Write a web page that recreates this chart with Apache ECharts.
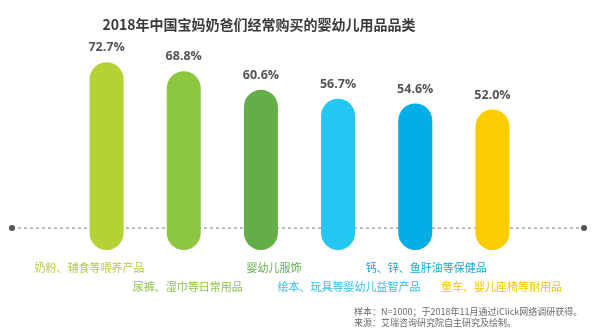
<!DOCTYPE html>
<html><head><meta charset="utf-8">
<script src="https://cdn.jsdelivr.net/npm/echarts@6/dist/echarts.min.js"></script>
<style>html,body{margin:0;padding:0;background:#fff}#c{width:600px;height:329px}</style>
</head><body><div id="c"></div>
<script>
const titleText = '2018年中国宝妈奶爸们经常购买的婴幼儿用品品类';
const categories = ['奶粉、辅食等喂养产品','尿裤、湿巾等日常用品','婴幼儿服饰','绘本、玩具等婴幼儿益智产品','钙、锌、鱼肝油等保健品','童车、婴儿座椅等耐用品'];
const values = [72.7, 68.8, 60.6, 56.7, 54.6, 52.0];
const barColors = ['#b3d234','#8dc63f','#64ae48','#22c8f2','#03aee6','#fbcc00'];
const labelColors = ['#b5cf3e','#8cc443','#62ad4a','#2ac3ee','#15a9e0','#f5c500'];
const footerLines = ['样本：N=1000；于2018年11月通过iClick网络调研获得。','来源：艾瑞咨询研究院自主研究及绘制。'];

const FONT = '"Noto Sans CJK SC", "Noto Sans", sans-serif';
// horizontal nudges of the category labels (px)
const labelShift = [-17, 4, 13, 11, 11, 9];
const rich = {e: {fontSize: 11, lineHeight: 19, fontFamily: FONT}};
categories.forEach((c, i) => {
  const d = labelShift[i];
  rich['c' + i] = {
    color: labelColors[i], fontSize: 11, fontFamily: FONT, lineHeight: 15,
    padding: [0, d < 0 ? -2 * d : 0, 0, d > 0 ? 2 * d : 0]
  };
});

const chart = echarts.init(document.getElementById('c'));
const option = {
  backgroundColor: '#fff',
  animation: false,
  title: [
    {text: titleText, left: 254, top: 13, textAlign: 'center',
     textStyle: {fontSize: 14, fontWeight: 'bold', color: '#3a3a3a', fontFamily: FONT}},
    {text: footerLines.join('\n'), left: 349, top: 301,
     textStyle: {fontSize: 9, fontWeight: 'normal', color: '#6a6a6a', lineHeight: 11, fontFamily: FONT}}
  ],
  grid: {left: 68, right: 69, top: 45.6, bottom: 79},
  xAxis: {
    type: 'category', data: categories,
    axisLine: {show: false}, axisTick: {show: false},
    axisLabel: {
      interval: 0, margin: 10, rich: rich,
      formatter: (v, i) => (i % 2 ? '{e| }\n' : '') + '{c' + i + '|' + v + '}'
    }
  },
  yAxis: {
    type: 'value', min: -9.6, max: 80, startValue: -9.6,
    show: false, splitLine: {show: false}
  },
  series: [{
    type: 'bar', data: values.map((v, i) => ({value: v, itemStyle: {color: barColors[i]}})),
    barWidth: 34,
    itemStyle: {borderRadius: 17},
    label: {show: true, position: 'top', distance: 8, fontSize: 12.5, fontWeight: 'bold',
      color: '#555', fontFamily: '"Open Sans", "Noto Sans", sans-serif',
      formatter: p => p.value.toFixed(1) + '%'}
  }]
};
chart.setOption(option);
const y0 = chart.convertToPixel({yAxisIndex: 0}, 0);
chart.setOption({
  graphic: [
    {type: 'line', z: 0, shape: {x1: 12, y1: y0, x2: 584, y2: y0},
     style: {stroke: '#7a7a7a', lineWidth: 1, lineDash: [3, 3]}},
    {type: 'circle', z: 0, shape: {cx: 12, cy: y0, r: 3}, style: {fill: '#555'}},
    {type: 'circle', z: 0, shape: {cx: 584, cy: y0, r: 3}, style: {fill: '#555'}}
  ]
});
</script></body></html>
